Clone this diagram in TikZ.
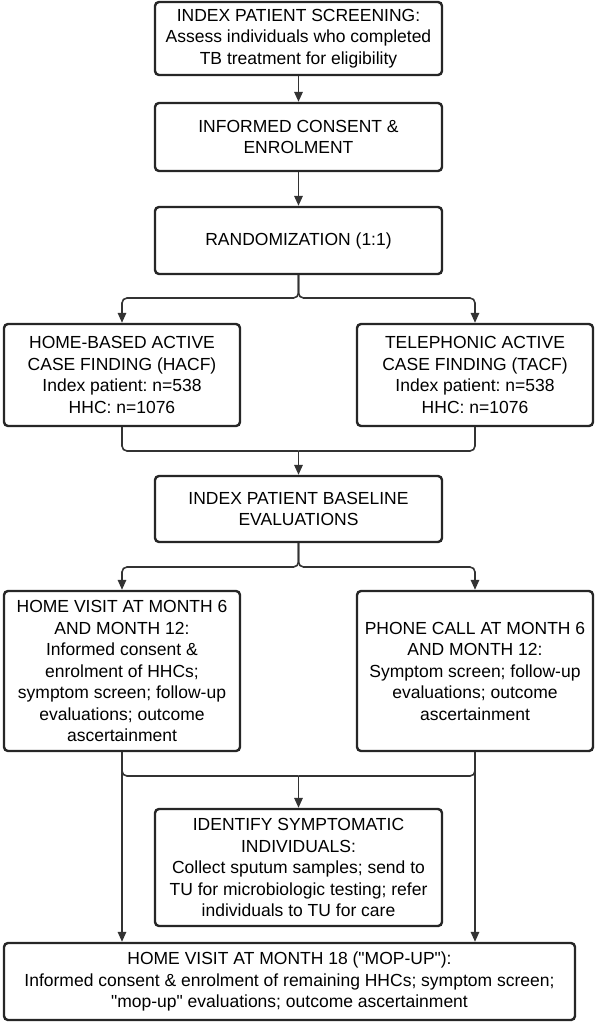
\documentclass[tikz,border=0pt]{standalone}
\usepackage{fontspec}
\setmainfont{Liberation Sans}[Ligatures=TeXOff]
\usetikzlibrary{arrows.meta}
\frenchspacing
\begin{document}
\begin{tikzpicture}[x=1pt,y=-1pt,
  box/.style={draw=black!85, line width=2.4pt, rounded corners=4pt, fill=white,
    align=center, inner sep=0pt, font=\fontsize{17.5}{21.5}\selectfont\frenchspacing},
  conn/.style={draw=black!80, line width=1.6pt, rounded corners=5pt},
  arr/.style={conn, -{Triangle[length=10pt,width=8.5pt]}}]
\useasboundingbox (0,0) rectangle (595,1022);
\node[box, minimum width=287pt, minimum height=73pt] (b1) at (298.5,38.5)
  {INDEX PATIENT SCREENING:\\Assess individuals who completed\\TB treatment for eligibility};
\node[box, minimum width=287pt, minimum height=68pt] (b2) at (298.5,137)
  {INFORMED CONSENT \&\\ENROLMENT};
\node[box, minimum width=287pt, minimum height=67pt] (b3) at (298.5,240.5)
  {RANDOMIZATION (1:1)};
\node[box, minimum width=236pt, minimum height=102pt] (armL) at (122,375)
  {HOME-BASED ACTIVE\\CASE FINDING (HACF)\\Index patient: n=538\\HHC: n=1076};
\node[box, minimum width=236pt, minimum height=102pt] (armR) at (475,375)
  {TELEPHONIC ACTIVE\\CASE FINDING (TACF)\\Index patient: n=538\\HHC: n=1076};
\node[box, minimum width=287pt, minimum height=66pt] (base) at (298.5,509)
  {INDEX PATIENT BASELINE\\EVALUATIONS};
\node[box, minimum width=236pt, minimum height=160pt] (monL) at (122,671)
  {HOME VISIT AT MONTH 6\\AND MONTH 12:\\Informed consent \&\\enrolment of HHCs;\\symptom screen; follow-up\\evaluations; outcome\\ascertainment};
\node[box, minimum width=236pt, minimum height=160pt] (monR) at (475,671)
  {PHONE CALL AT MONTH 6\\AND MONTH 12:\\Symptom screen; follow-up\\evaluations; outcome\\ascertainment};
\node[box, minimum width=287pt, minimum height=117pt] (ident) at (298.5,867.5)
  {IDENTIFY SYMPTOMATIC\\INDIVIDUALS:\\Collect sputum samples; send to\\TU for microbiologic testing; refer\\individuals to TU for care};
\node[box, minimum width=571pt, minimum height=77pt] (bot) at (289.5,981.5)
  {HOME VISIT AT MONTH 18 ("MOP-UP"):\\Informed consent \& enrolment of remaining HHCs; symptom screen;\\"mop-up" evaluations; outcome ascertainment};
\coordinate (s1) at (298.5,298);
\coordinate (m1) at (298.5,451);
\coordinate (s2) at (298.5,567);
\coordinate (m2) at (298.5,776);
\draw[arr] (b1) -- (b2);
\draw[arr] (b2) -- (b3);
\draw[arr] (b3.south) -- (s1) -| (armL.north);
\draw[arr] (b3.south) -- (s1) -| (armR.north);
\draw[conn] (armL.south) |- (m1);
\draw[conn] (armR.south) |- (m1);
\draw[arr] (m1) -- (base.north);
\draw[arr] (base.south) -- (s2) -| (monL.north);
\draw[arr] (base.south) -- (s2) -| (monR.north);
\draw[conn] (monL.south) |- (m2);
\draw[conn] (monR.south) |- (m2);
\draw[arr] (m2) -- (ident.north);
\draw[arr] (monL.south) -- (monL.south |- bot.north);
\draw[arr] (monR.south) -- (monR.south |- bot.north);
\end{tikzpicture}
\end{document}
